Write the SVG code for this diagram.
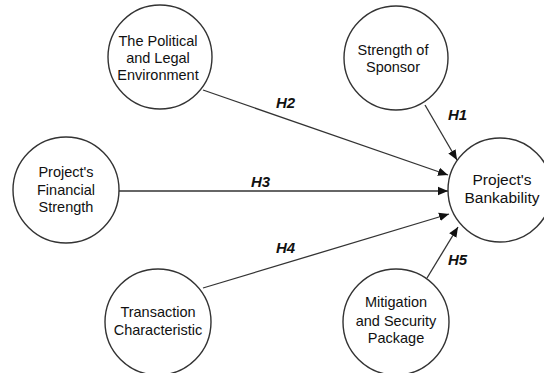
<svg xmlns="http://www.w3.org/2000/svg" width="544" height="373" viewBox="0 0 544 373">
  <style>
    .node circle { fill: #fff; stroke: #333; stroke-width: 1.4; }
    .node text { font-family: "Liberation Sans", Arial, sans-serif; font-size: 14.5px; fill: #111; text-anchor: middle; }
    .edge line { stroke: #333; stroke-width: 1.3; marker-end: url(#arrow); }
    .lbl { font-family: "Liberation Sans", Arial, sans-serif; font-size: 15px; font-weight: bold; font-style: italic; fill: #111; }
  </style>
  <defs>
    <marker id="arrow" viewBox="0 0 10 10" refX="10" refY="5" markerWidth="10" markerHeight="10" markerUnits="userSpaceOnUse" orient="auto">
      <path d="M0,0.8 L10,5 L0,9.2 Z" fill="#111"/>
    </marker>
  </defs>
  <rect width="544" height="373" fill="#fff"/>

  <!-- connectors -->
  <g id="edges" class="edge">
    <line x1="425" y1="105" x2="457" y2="160"/>
    <line x1="203" y1="90" x2="448" y2="175"/>
    <line x1="119" y1="191" x2="448" y2="191"/>
    <line x1="203" y1="288" x2="449" y2="214"/>
    <line x1="427" y1="278" x2="458" y2="227"/>
  </g>
  <g id="edge-labels">
    <text class="lbl" x="448" y="120">H1</text>
    <text class="lbl" x="276" y="108">H2</text>
    <text class="lbl" x="251" y="187">H3</text>
    <text class="lbl" x="276" y="253">H4</text>
    <text class="lbl" x="448" y="265">H5</text>
  </g>

  <!-- nodes -->
  <g id="political" class="node">
    <circle cx="160" cy="57" r="52"/>
    <text x="158" y="46">The Political</text>
    <text x="158" y="63">and Legal</text>
    <text x="158" y="80">Environment</text>
  </g>
  <g id="sponsor" class="node">
    <circle cx="396" cy="58" r="52"/>
    <text x="393" y="55">Strength of</text>
    <text x="393" y="72">Sponsor</text>
  </g>
  <g id="financial" class="node">
    <circle cx="66" cy="190" r="53"/>
    <text x="66" y="177">Project's</text>
    <text x="66" y="195">Financial</text>
    <text x="66" y="212">Strength</text>
  </g>
  <g id="bankability" class="node">
    <circle cx="500" cy="190" r="52"/>
    <text x="502" y="185" style="font-size:15.5px">Project's</text>
    <text x="502" y="203" style="font-size:15.5px">Bankability</text>
  </g>
  <g id="transaction" class="node">
    <circle cx="158" cy="322" r="53"/>
    <text x="158" y="317">Transaction</text>
    <text x="158" y="335">Characteristic</text>
  </g>
  <g id="mitigation" class="node">
    <circle cx="396" cy="322" r="53"/>
    <text x="396" y="307">Mitigation</text>
    <text x="396" y="326">and Security</text>
    <text x="396" y="343">Package</text>
  </g>
</svg>
